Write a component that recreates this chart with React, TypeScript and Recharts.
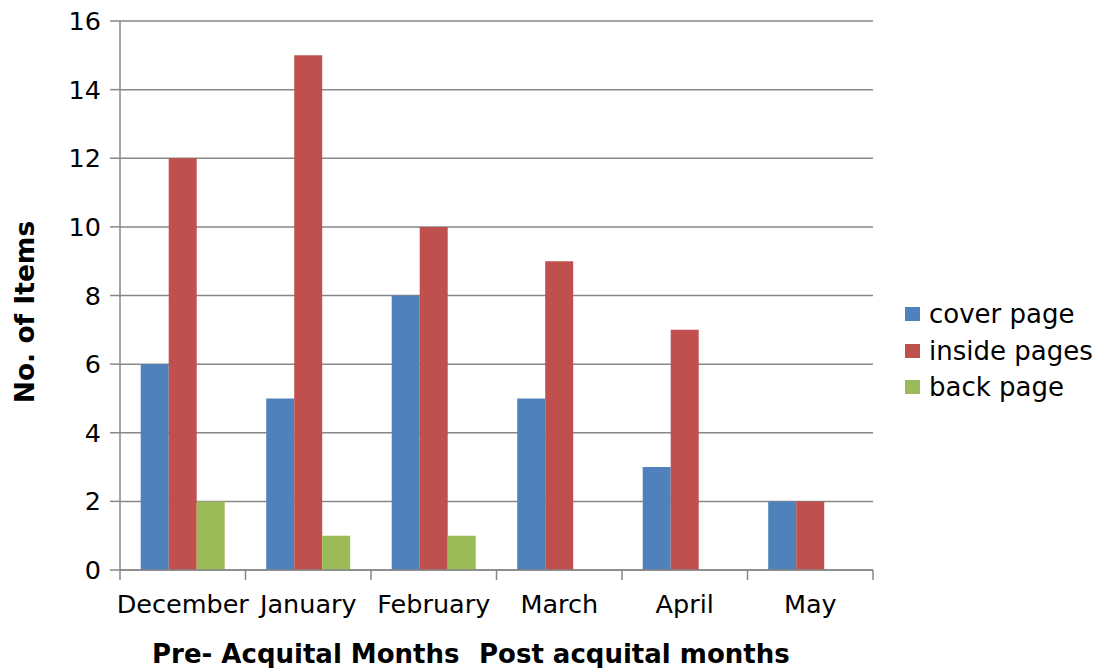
import { BarChart, Bar, XAxis, YAxis, CartesianGrid } from 'recharts';

// Items per page position, by month
const months = ['December', 'January', 'February', 'March', 'April', 'May'];
const coverPage = [6, 5, 8, 5, 3, 2];
const insidePages = [12, 15, 10, 9, 7, 2];
const backPage = [2, 1, 1, 0, 0, 0];
const yTicks = [0, 2, 4, 6, 8, 10, 12, 14, 16];

const series = [
  { key: 'cover', name: 'cover page', color: '#4F81BD' },
  { key: 'inside', name: 'inside pages', color: '#C0504D' },
  { key: 'back', name: 'back page', color: '#9BBB59' },
];

const data = months.map((month, i) => ({
  month,
  cover: coverPage[i],
  inside: insidePages[i],
  back: backPage[i],
}));

const WIDTH = 1094;
const HEIGHT = 668;
const MARGIN = { top: 21, right: 221, bottom: 0, left: 0 };
const Y_AXIS_W = 120;
const X_AXIS_H = 98;
const BAND = (WIDTH - MARGIN.right - Y_AXIS_W) / months.length;
const AXIS_GREY = '#878787';
const FONT = '"DejaVu Sans", sans-serif';

// month label plus tick marks on the category boundaries
const MonthTick = (props: any) => {
  const { x, y, payload, index } = props;
  const half = BAND / 2;
  return (
    <g>
      <line x1={x - half} x2={x - half} y1={y} y2={y + 10} stroke={AXIS_GREY} strokeWidth={1.5} />
      {index === months.length - 1 && (
        <line x1={x + half} x2={x + half} y1={y} y2={y + 10} stroke={AXIS_GREY} strokeWidth={1.5} />
      )}
      <text x={x} y={y + 43} textAnchor="middle" fontSize={25.5} fill="#000" fontFamily={FONT}>
        {payload.value}
      </text>
    </g>
  );
};

const XTitle = (props: any) => {
  const { viewBox } = props;
  const base = viewBox.y + viewBox.height - 5;
  return (
    <g fontFamily={FONT} fontSize={26} fontWeight="bold" fill="#000">
      <text x={viewBox.x + 32} y={base}>Pre- Acquital Months</text>
      <text x={viewBox.x + 359} y={base}>Post acquital months</text>
    </g>
  );
};

const YTitle = () => (
  <text
    x={24}
    y={312}
    transform="rotate(-90 24 312)"
    textAnchor="middle"
    dominantBaseline="central"
    fontFamily={FONT}
    fontSize={26.5}
    fontWeight="bold"
    fill="#000"
  >
    No. of Items
  </text>
);

const App = () => {
  return (
    <div style={{ position: 'absolute', left: 0, top: 0, width: WIDTH, height: HEIGHT, background: '#fff', fontFamily: FONT }}>
      <BarChart
        width={WIDTH}
        height={HEIGHT}
        data={data}
        margin={MARGIN}
        barCategoryGap="16.5%"
        barGap={0}
      >
        <CartesianGrid vertical={false} stroke={AXIS_GREY} strokeWidth={1.5} />
        <XAxis
          dataKey="month"
          height={X_AXIS_H}
          axisLine={{ stroke: AXIS_GREY, strokeWidth: 1.5 }}
          tickLine={false}
          tickSize={0}
          tickMargin={0}
          tick={<MonthTick />}
          interval={0}
          label={<XTitle />}
        />
        <YAxis
          width={Y_AXIS_W}
          domain={[0, 16]}
          ticks={yTicks}
          interval={0}
          axisLine={{ stroke: AXIS_GREY, strokeWidth: 1.5 }}
          tickLine={{ stroke: AXIS_GREY, strokeWidth: 1.5 }}
          tickSize={10}
          tickMargin={9}
          tick={{ fontSize: 25.5, fill: '#000', fontFamily: FONT }}
          label={<YTitle />}
        />
        {series.map((s) => (
          <Bar key={s.key} dataKey={s.key} name={s.name} fill={s.color} isAnimationActive={false} />
        ))}
      </BarChart>
      <div style={{ position: 'absolute', left: 905, top: 296 }}>
        {series.map((s) => (
          <div key={s.key} style={{ display: 'flex', alignItems: 'center', height: 36.5, fontSize: 26, color: '#000' }}>
            <span style={{ width: 15, height: 14, background: s.color, marginRight: 9, flexShrink: 0 }} />
            <span style={{ whiteSpace: 'nowrap' }}>{s.name}</span>
          </div>
        ))}
      </div>
    </div>
  );
};

export default App;
